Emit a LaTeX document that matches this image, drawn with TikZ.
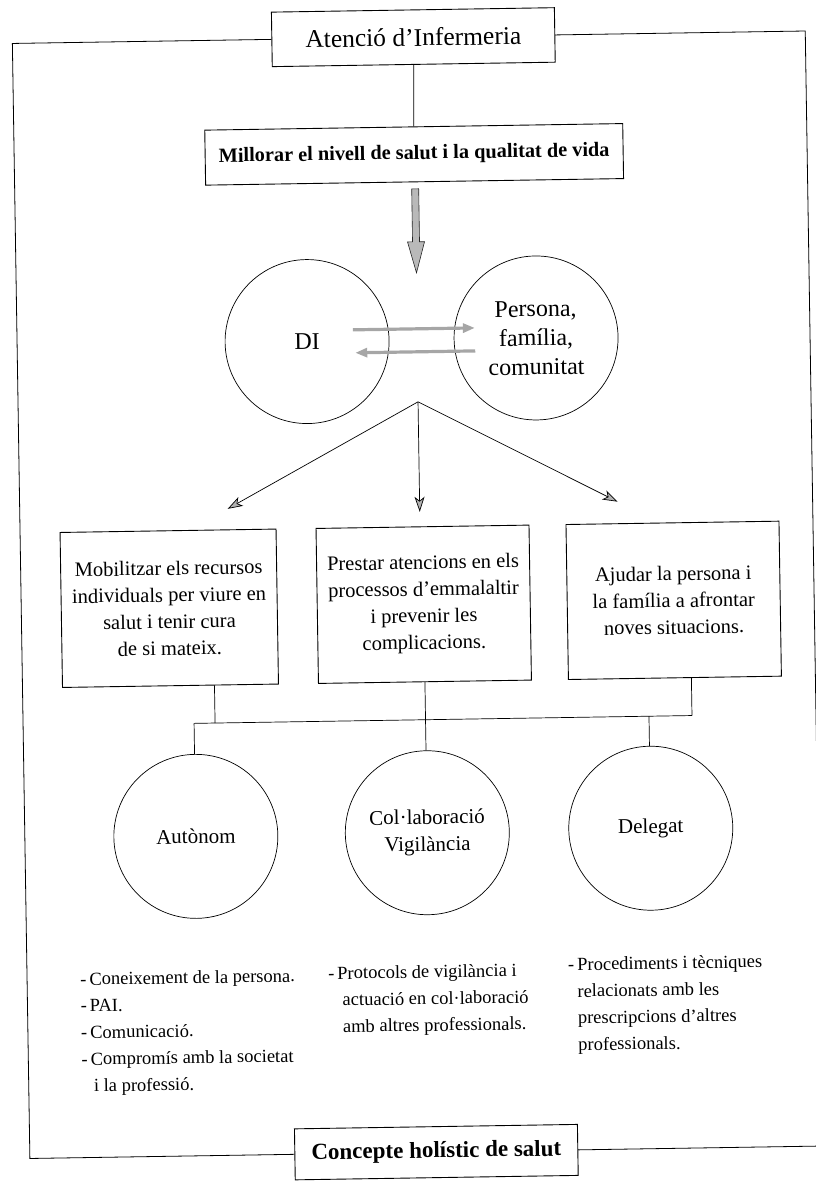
\documentclass[tikz,border=0pt]{standalone}
\usepackage{fontspec}
\setmainfont{Liberation Serif}
\usetikzlibrary{arrows.meta}
\begin{document}
\begin{tikzpicture}[x=1pt,y=-1pt,
  box/.style={draw, line width=0.9pt, inner sep=0pt, align=center},
  circ/.style={draw, circle, line width=0.7pt, minimum size=164pt, inner sep=0pt, align=center},
  ln/.style={line width=0.7pt},
  frame/.style={line width=0.8pt},
  garr/.style={line width=0.7pt, -{Stealth[length=15pt,width=10pt,inset=4pt,fill=gray!60]}},
  harr/.style={line width=3.2pt, draw=gray!70, -{Triangle[length=12pt,width=9pt,fill=gray!70]}},
  heavy/.style={fill=gray!55, draw=gray!30!black, line width=0.6pt},
  tbox/.style={font=\fontsize{20.5}{26.7}\selectfont},
  tcirc/.style={font=\fontsize{21}{27}\selectfont},
  tlist/.style={font=\fontsize{18.5}{26.7}\selectfont, align=left, inner sep=0pt, anchor=north west}
]
\useasboundingbox (0,0) rectangle (816,1181);
\clip (0,0) rectangle (816,1181);
\begin{scope}[rotate around={0.9:(408,590)}, transform shape]
% top boxes
\node[box, minimum width=283pt, minimum height=54.5pt, font=\fontsize{25.5}{30}\selectfont] (box1) at (422,37.3) {Atenció d'Infermeria};
\node[box, minimum width=418pt, minimum height=55pt, font=\bfseries\fontsize{20.3}{26}\selectfont] (box2) at (421,154.5) {Millorar el nivell de salut i la qualitat de vida};
\draw[ln] (box1.south) -- (box2.north);
% heavy arrow
\coordinate (hv) at (421.5,189);
\filldraw[heavy, shift={(hv)}] (-3.5,0) -- (3.5,0) -- (3.5,53) -- (8.5,53) -- (0,84) -- (-8.5,53) -- (-3.5,53) -- cycle;
% DI and persona
\node[circ, font=\fontsize{24}{29}\selectfont] (di) at (311,340) {DI};
\node[circ, font=\fontsize{24}{29}\selectfont] (pf) at (540,340) {Persona,\\família,\\comunitat};
\coordinate (a1s) at (357,329);
\coordinate (a1e) at (479,329);
\coordinate (a2s) at (479,352);
\coordinate (a2e) at (359,352);
\draw[harr] (a1s) -- (a1e);
\draw[harr] (a2s) -- (a2e);
% branch arrows
\coordinate (br) at (421,402);
\coordinate (tA) at (229,506);
\coordinate (tB) at (421,512);
\coordinate (tC) at (619,505);
\draw[garr] (br) -- (tA);
\draw[garr] (br) -- (tB);
\draw[garr] (br) -- (tC);
% middle boxes
\node[box, tbox, minimum width=216pt, minimum height=155pt] (boxA) at (169,604.5) {Mobilitzar els recursos\\individuals per viure en\\salut i tenir cura\\de si mateix.};
\node[box, tbox, minimum width=213pt, minimum height=155pt] (boxB) at (423.5,604.5) {Prestar atencions en els\\processos d'emmalaltir\\i prevenir les\\complicacions.};
\node[box, tbox, minimum width=213pt, minimum height=155pt] (boxC) at (673.5,604.5) {Ajudar la persona i\\la família a afrontar\\noves situacions.};
% circles
\node[circ, tcirc] (cAut) at (192,833) {Autònom};
\node[circ, tcirc] (cCol) at (423.5,833) {Col·laboració\\Vigilància};
\node[circ, tcirc] (cDel) at (647,832) {Delegat};
% bus
\coordinate (busL) at (192,720);
\coordinate (busR) at (690,720);
\coordinate (busD) at (647,720);
\coordinate (aDown) at (213,720);
\draw[ln] (busL) -- (busR);
\draw[ln] ([xshift=44pt]boxA.south) -- (aDown);
\draw[ln] ([xshift=16.5pt]boxC.south) -- (busR);
\draw[ln] (boxB.south) -- (cCol.north);
\draw[ln] (busL) -- (cAut.north);
\draw[ln] (busD) -- (cDel.north);
% lists
\node[tlist] (lA) at (74,967) {-\hspace{3pt}Coneixement de la persona.\\-\hspace{3pt}PAI.\\-\hspace{3pt}Comunicació.\\-\hspace{3pt}Compromís amb la societat\\\hspace*{12pt}i la professió.};
\node[tlist] (lB) at (322,965) {-\hspace{3pt}Protocols de vigilància i\\\hspace*{14pt}actuació en col·laboració\\\hspace*{14pt}amb altres professionals.};
\node[tlist] (lC) at (562,960) {-\hspace{3pt}Procediments i tècniques\\\hspace*{9pt}relacionats amb les\\\hspace*{9pt}prescripcions d'altres\\\hspace*{9pt}professionals.};
% bottom box
\node[box, minimum width=283pt, minimum height=51pt, font=\bfseries\fontsize{23}{29}\selectfont] (boxBot) at (427.5,1152.5) {Concepte holístic de salut};
% frame
\coordinate (TL) at (21,37.3);
\coordinate (BL) at (21,1152.5);
\coordinate (TR) at (814,37.3);
\coordinate (BR) at (814,1152.5);
\draw[frame] (box1.west) -- (TL) -- (BL) -- (boxBot.west);
\draw[frame] (box1.east) -- (TR) -- (BR) -- (boxBot.east);
\end{scope}
\end{tikzpicture}
\end{document}
